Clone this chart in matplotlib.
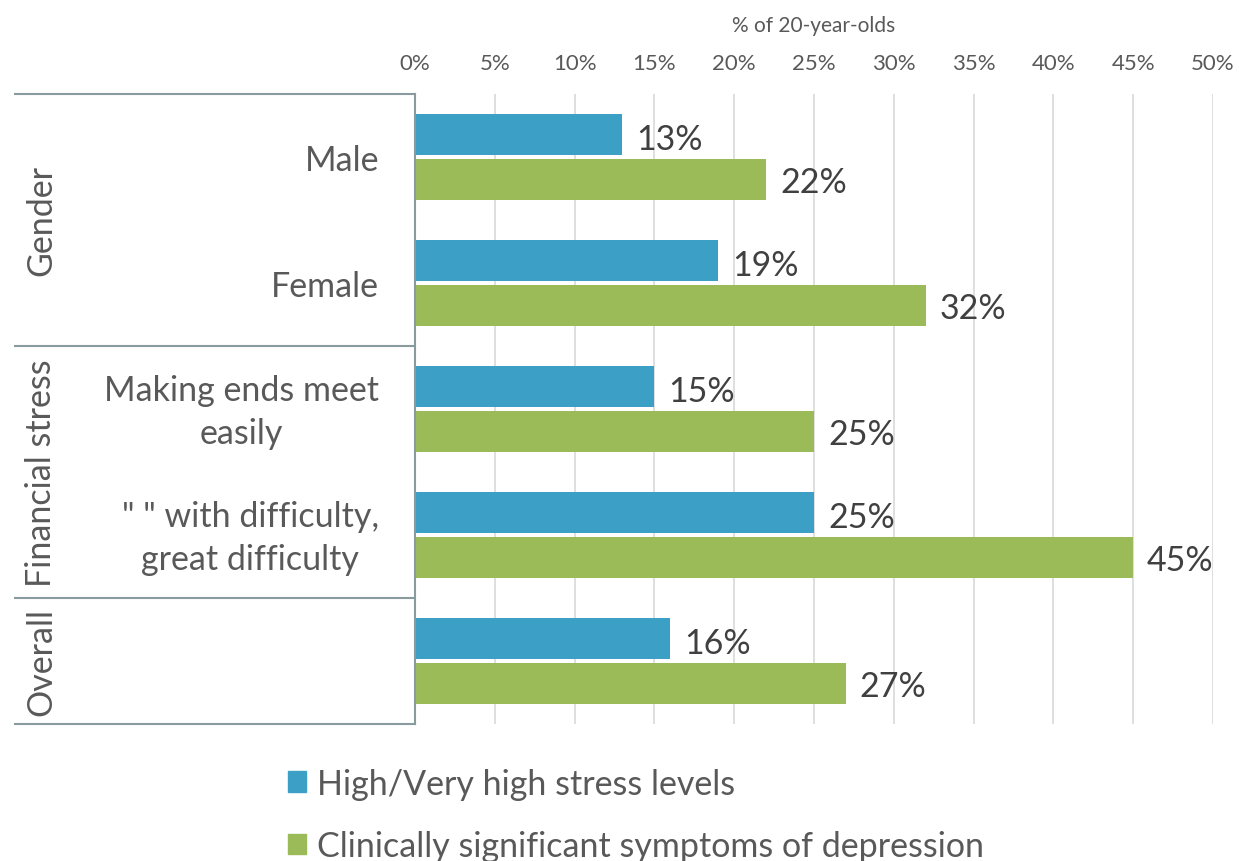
import matplotlib
matplotlib.use("Agg")
import matplotlib.pyplot as plt
from matplotlib.lines import Line2D
from matplotlib.patches import Patch

plt.rcParams['font.family'] = ['Lato', 'DejaVu Sans']

categories = ["Male", "Female", "Making ends meet\neasily",
              "\" \" with difficulty,\ngreat difficulty", ""]
groups = ["Gender", "Financial stress", "Overall"]
group_sizes = [2, 2, 1]
stress = [13, 19, 15, 25, 16]
depression = [22, 32, 25, 45, 27]
series_names = ["High/Very high stress levels",
                "Clinically significant symptoms of depression"]
x_ticks = [0, 5, 10, 15, 20, 25, 30, 35, 40, 45, 50]

BLUE = "#3c9fc6"
GREEN = "#9bbb59"
TEXT = "#595959"
LABEL = "#404040"
LINE = "#8a9ba0"
FS = 24.5

W, H = 1239, 862
fig = plt.figure(figsize=(W / 100, H / 100), dpi=100)
ax = fig.add_axes([415 / W, 1 - 725 / H, 798 / W, 630 / H])

n = len(categories)
ys = list(range(n))
bh = 0.32
off = 0.178
ax.barh([y - off for y in ys], stress, height=bh, color=BLUE, zorder=3)
ax.barh([y + off for y in ys], depression, height=bh, color=GREEN, zorder=3)

for y, v in zip(ys, stress):
    ax.annotate(f"{v}%", (v, y - off), xytext=(10, -3), textcoords="offset points",
                va="center", ha="left", fontsize=FS, color=LABEL)
for y, v in zip(ys, depression):
    ax.annotate(f"{v}%", (v, y + off), xytext=(10, -2), textcoords="offset points",
                va="center", ha="left", fontsize=FS, color=LABEL)

ax.set_xlim(0, 50)
ax.set_ylim(n - 0.5, -0.5)
ax.xaxis.tick_top()
ax.xaxis.set_label_position("top")
ax.set_xticks(x_ticks)
ax.set_xticklabels([f"{t}%" for t in x_ticks], fontsize=16, color=TEXT)
ax.tick_params(axis="x", length=0, pad=15)
ax.set_xlabel("% of 20-year-olds", fontsize=15, color=TEXT, labelpad=16)
ax.set_yticks([])
ax.grid(axis="x", color="#d9d9d9", linewidth=1.2, zorder=0)
for s in ["top", "right", "bottom"]:
    ax.spines[s].set_visible(False)
ax.spines["left"].set_color(LINE)
ax.spines["left"].set_linewidth(1.5)
ax.spines["left"].set_zorder(4)

# category labels, right aligned against the axis
for y, c in zip(ys, categories):
    ax.annotate(c, (0, y), xytext=(-26, -2), textcoords="offset points",
                ha="right", va="center", multialignment="center",
                fontsize=FS, color=TEXT, linespacing=1.42,
                annotation_clip=False)

# group separators and rotated group labels
trans = ax.get_yaxis_transform()
x_left = (15 - 415) / 798
bounds = [-0.5]
for g in group_sizes:
    bounds.append(bounds[-1] + g)
for b in bounds:
    ax.add_line(Line2D([x_left, 0], [b, b], transform=trans, color=LINE,
                       linewidth=1.5, clip_on=False))
for g, lo, hi in zip(groups, bounds[:-1], bounds[1:]):
    ax.text((41 - 415) / 798, (lo + hi) / 2, g, transform=trans, rotation=90,
            ha="center", va="center", fontsize=FS, color=TEXT)

handles = [Patch(color=BLUE), Patch(color=GREEN)]
fig.legend(handles, series_names, loc="upper left",
           bbox_to_anchor=(274 / W, 1 - 755 / H), frameon=False,
           fontsize=FS, labelcolor=TEXT, handlelength=0.55, handleheight=0.55,
           handletextpad=0.3, labelspacing=0.9, borderaxespad=0)

fig.savefig("out.png", dpi=100)
